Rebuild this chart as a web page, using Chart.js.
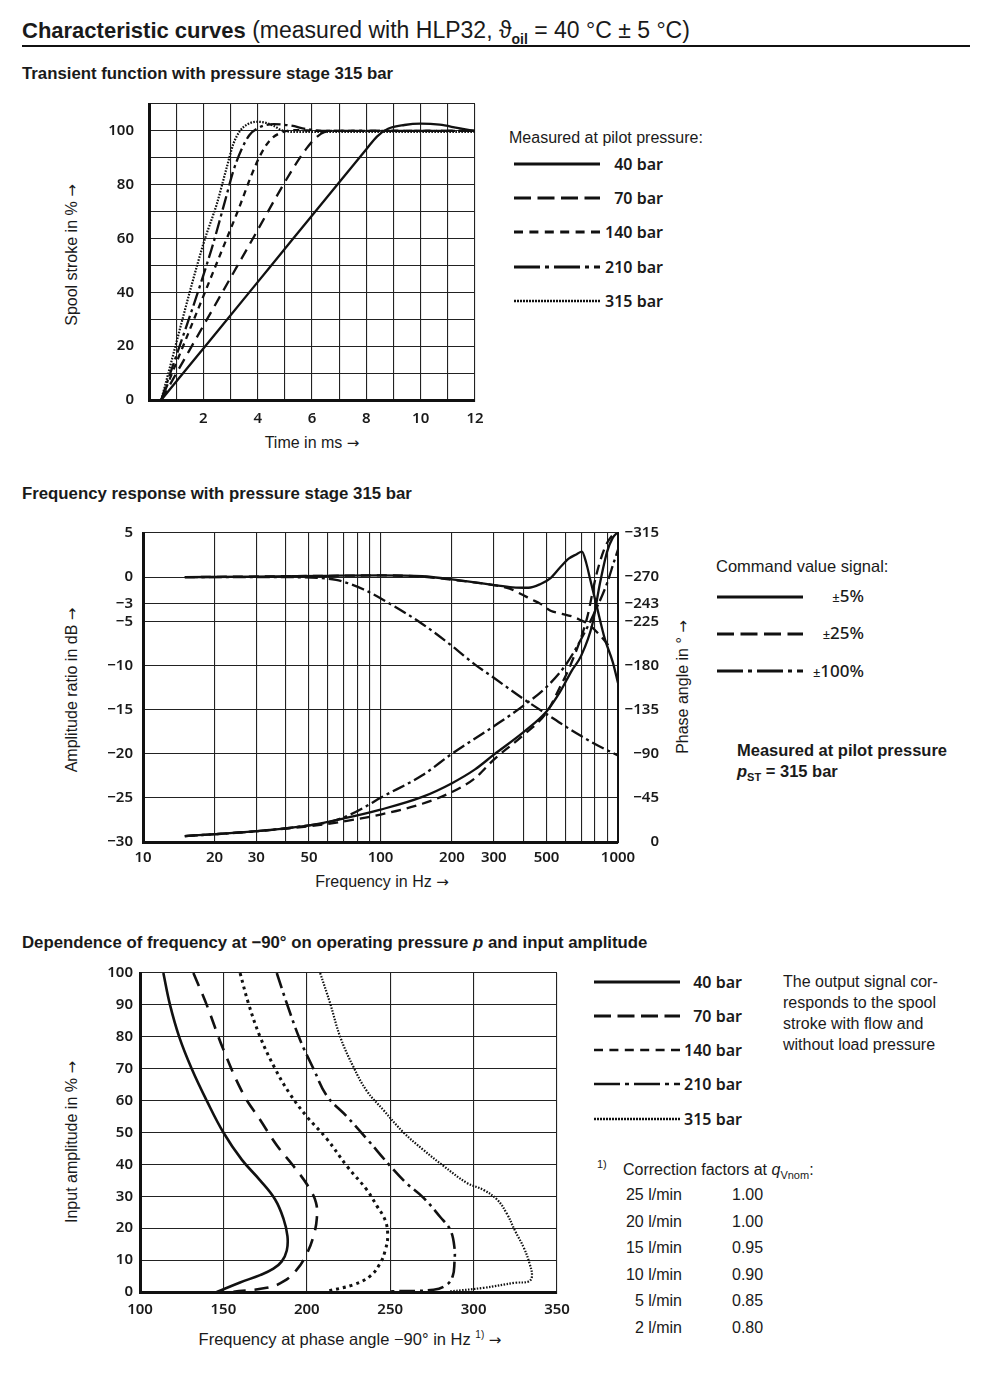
<!DOCTYPE html>
<html>
<head>
<meta charset="utf-8">
<script src="https://cdn.jsdelivr.net/npm/chart.js@4.4.0/dist/chart.umd.min.js"></script>
<style>
  body { margin: 0; width: 988px; height: 1400px; position: relative; background: #fff;
         font-family: "Liberation Sans", Arial, sans-serif; color: #1a1a1a; }
  .t { position: absolute; white-space: nowrap; font-size: 16px; line-height: 20px; }
  .b { font-weight: bold; }
  .h { font-size: 16.8px; font-weight: bold; }
  .lab { font-family: "Noto Sans", sans-serif; font-weight: 600; font-size: 16px; text-align: right; width: 100px; }
  .rot { transform: translate(-50%, -50%) rotate(-90deg); }
  .ctr { transform: translateX(-50%); }
  .ar { font-family: "DejaVu Sans", sans-serif; font-size: 15px; }
  canvas { position: absolute; }
  svg { position: absolute; left: 0; top: 0; }
</style>
</head>
<body>

<div class="t" style="left:22px;top:17px;font-size:23px;line-height:26px;">
  <b style="font-size:22px;">Characteristic curves</b> (measured with HLP32, ϑ<sub style="font-size:14px;font-weight:bold;">oil</sub> = 40 °C ± 5 °C)
</div>
<div style="position:absolute;left:22px;top:45px;width:948px;height:2px;background:#111;"></div>

<div class="t h" style="left:22px;top:64px;">Transient function with pressure stage 315 bar</div>
<div class="t rot" style="left:72px;top:255px;">Spool stroke in % <span class="ar">→</span></div>
<div class="t ctr" style="left:312px;top:433px;">Time in ms <span class="ar">→</span></div>
<div class="t" style="left:509px;top:128px;">Measured at pilot pressure:</div>
<div class="t lab" style="left:563px;top:154px;">40 bar</div>
<div class="t lab" style="left:563px;top:188px;">70 bar</div>
<div class="t lab" style="left:563px;top:222px;">140 bar</div>
<div class="t lab" style="left:563px;top:257px;">210 bar</div>
<div class="t lab" style="left:563px;top:291px;">315 bar</div>

<div class="t h" style="left:22px;top:484px;">Frequency response with pressure stage 315 bar</div>
<div class="t rot" style="left:72px;top:690px;">Amplitude ratio in dB <span class="ar">→</span></div>
<div class="t rot" style="left:683px;top:687px;">Phase angle in ° <span class="ar">→</span></div>
<div class="t ctr" style="left:382px;top:872px;">Frequency in Hz <span class="ar">→</span></div>
<div class="t" style="left:716px;top:556px;font-size:16.5px;">Command value signal:</div>
<div class="t lab" style="left:764px;top:586px;font-weight:500;font-size:17px;"><span style="font-size:13px;">±</span>5%</div>
<div class="t lab" style="left:764px;top:623px;font-weight:500;font-size:17px;"><span style="font-size:13px;">±</span>25%</div>
<div class="t lab" style="left:764px;top:661px;font-weight:500;font-size:17px;"><span style="font-size:13px;">±</span>100%</div>
<div class="t b" style="left:737px;top:740px;font-size:16.5px;">Measured at pilot pressure</div>
<div class="t b" style="left:737px;top:761px;font-size:16.5px;"><i>p</i><sub style="font-size:11px;">ST</sub> = 315 bar</div>

<div class="t h" style="left:22px;top:933px;">Dependence of frequency at −90° on operating pressure <i>p</i> and input amplitude</div>
<div class="t rot" style="left:72px;top:1142px;">Input amplitude in % <span class="ar">→</span></div>
<div class="t ctr" style="left:350px;top:1325px;font-size:16.5px;">Frequency at phase angle −90° in Hz <sup style="font-size:10px;">1)</sup> <span class="ar">→</span></div>
<div class="t lab" style="left:642px;top:972px;">40 bar</div>
<div class="t lab" style="left:642px;top:1006px;">70 bar</div>
<div class="t lab" style="left:642px;top:1040px;">140 bar</div>
<div class="t lab" style="left:642px;top:1074px;">210 bar</div>
<div class="t lab" style="left:642px;top:1109px;">315 bar</div>
<div class="t" style="left:783px;top:971px;line-height:21px;">The output signal cor-<br>responds to the spool<br>stroke with flow and<br>without load pressure</div>
<div class="t" style="left:597px;top:1154px;font-size:11px;">1)</div>
<div class="t" style="left:623px;top:1160px;">Correction factors at <i>q</i><sub style="font-size:11px;">Vnom</sub>:</div>
<div class="t" style="left:582px;top:1185px;width:100px;text-align:right;">25 l/min</div>
<div class="t" style="left:582px;top:1212px;width:100px;text-align:right;">20 l/min</div>
<div class="t" style="left:582px;top:1238px;width:100px;text-align:right;">15 l/min</div>
<div class="t" style="left:582px;top:1265px;width:100px;text-align:right;">10 l/min</div>
<div class="t" style="left:582px;top:1291px;width:100px;text-align:right;">5 l/min</div>
<div class="t" style="left:582px;top:1318px;width:100px;text-align:right;">2 l/min</div>
<div class="t" style="left:732px;top:1185px;">1.00</div>
<div class="t" style="left:732px;top:1212px;">1.00</div>
<div class="t" style="left:732px;top:1238px;">0.95</div>
<div class="t" style="left:732px;top:1265px;">0.90</div>
<div class="t" style="left:732px;top:1291px;">0.85</div>
<div class="t" style="left:732px;top:1318px;">0.80</div>

<svg width="988" height="1400" stroke="#111" stroke-width="3.2">
  <line x1="514" x2="600" y1="164" y2="164"/>
  <line x1="514" x2="600" y1="198" y2="198" stroke-dasharray="17 6.5"/>
  <line x1="514" x2="600" y1="232" y2="232" stroke-dasharray="9 6.4"/>
  <line x1="514" x2="600" y1="267" y2="267" stroke-dasharray="26 5 4 5"/>
  <line x1="514" x2="600" y1="301" y2="301" stroke-dasharray="2 1" stroke-width="2.6"/>
  <line x1="717" x2="803" y1="597" y2="597"/>
  <line x1="717" x2="803" y1="634" y2="634" stroke-dasharray="17 6.5"/>
  <line x1="717" x2="803" y1="671" y2="671" stroke-dasharray="26 5 4 5"/>
  <line x1="594" x2="680" y1="982" y2="982"/>
  <line x1="594" x2="680" y1="1016" y2="1016" stroke-dasharray="17 6.5"/>
  <line x1="594" x2="680" y1="1050" y2="1050" stroke-dasharray="9 6.4" stroke-width="2.4"/>
  <line x1="594" x2="680" y1="1084" y2="1084" stroke-dasharray="26 5 4 5" stroke-width="2.6"/>
  <line x1="594" x2="680" y1="1119" y2="1119" stroke-dasharray="2 1" stroke-width="2.4"/>
</svg>

<canvas id="c1" width="390" height="335" style="left:100px;top:95px;width:390px;height:335px;"></canvas>
<canvas id="c2" width="590" height="350" style="left:90px;top:520px;width:590px;height:350px;"></canvas>
<canvas id="c3" width="490" height="360" style="left:90px;top:960px;width:490px;height:360px;"></canvas>

<script>
// Transient function: [time ms, spool stroke %]
const stroke40 = [[0.45,0],[2.5,25.3],[4.5,50],[6.5,74.7],[8.0,93.2],[8.4,98],[8.8,100.8],[9.4,102.2],[10,102.7],[10.7,102.3],[11.4,101],[12,100]];
const stroke70 = [[0.45,0],[3.6,56],[5.3,86],[5.8,93.5],[6.1,97],[6.45,99.5],[6.9,100],[12,100]];
const stroke140 = [[0.45,0],[2.7,56],[3.3,71],[3.75,83],[4.1,91],[4.45,96.5],[4.9,99.5],[5.5,100.3],[6.2,100],[12,100]];
const stroke210 = [[0.45,0],[2.3,56],[2.8,74],[3.1,85],[3.4,93],[3.7,98.5],[4.0,101],[4.6,102.5],[5.2,102],[5.8,100.7],[6.5,100],[12,100]];
const stroke315 = [[0.45,0],[2.0,58],[2.5,73],[2.85,86],[3.1,95],[3.35,100],[3.6,102.3],[3.95,103.4],[4.3,103],[4.6,101.8],[4.9,100.2],[5.5,99.6],[12,99.6]];

// Frequency response: [Hz, dB] and [Hz, degrees]
const ampSmall = [[15,0],[30,0.05],[60,0.15],[100,0.2],[150,0.1],[200,-0.25],[300,-0.9],[360,-1.15],[420,-1.2],[470,-0.8],[520,-0.1],[570,1.1],[620,2.1],[670,2.6],[705,2.9],[735,1.6],[762,-0.15],[812,-3.2],[880,-7],[950,-9.6],[1000,-12]];
const ampMid = [[15,0],[60,0.15],[100,0.2],[150,0.05],[200,-0.3],[300,-0.9],[350,-1.3],[390,-1.9],[430,-2.5],[470,-3.0],[520,-3.8],[570,-4.1],[650,-4.5],[700,-4.9],[750,-5.3],[840,-6.6],[910,-7.7]];
const ampFull = [[15,0],[40,0],[55,-0.1],[65,-0.3],[75,-0.8],[85,-1.4],[100,-2.4],[150,-5.3],[200,-7.8],[250,-9.9],[300,-11.4],[400,-13.8],[500,-15.5],[600,-16.9],[700,-18],[800,-18.9],[900,-19.6],[1000,-20.2]];
const phaseSmall = [[15,-6],[20,-8],[30,-11],[50,-17],[70,-24],[100,-33],[150,-46],[200,-60],[250,-74],[300,-89],[400,-112],[500,-133],[570,-153],[640,-175],[700,-190],[780,-222],[840,-264],[900,-296],[950,-310],[1000,-316]];
const phaseMid = [[15,-6],[30,-11],[50,-16],[70,-21],[100,-28],[150,-39],[200,-51],[250,-65],[300,-84],[400,-109],[500,-132],[570,-158],[630,-180],[740,-228],[810,-272],[880,-300],[950,-313],[1000,-317]];
const phaseFull = [[15,-6],[30,-11],[50,-17],[60,-20],[70,-25],[85,-35],[100,-45],[150,-68],[200,-90],[300,-118],[400,-139],[500,-158],[600,-180],[700,-207],[800,-235],[900,-264],[960,-285],[1000,-298]];

// -90° frequency: [Hz, input amplitude %]
const freq40 = [[114,100],[118,90],[123.5,80],[131,70],[140,60],[150,50],[161,41.5],[172,35],[181,29],[186,23],[188.4,17.5],[188,13],[185,9.6],[180,7.3],[172,5.3],[160,3],[146,0]];
const freq70 = [[132,100],[140,90],[150,76],[162,62],[172,54],[182,46],[192,39.5],[201,33],[205.5,28],[206,23],[204,17.5],[200,12],[194,7],[186,3.3],[176,1.3],[156,0.1]];
const freq140 = [[160,100],[165,90.5],[172,80],[181,70],[190,62],[200,55],[212,48],[224,39.5],[236,32],[242,27],[247,22.5],[248.5,17.5],[247,13],[244,9],[238,5],[228,2.3],[212,0.2]];
const freq210 = [[182,100],[188,90.5],[196,79],[204,70],[212,61.5],[224,55],[236,48],[250,39.5],[260,34],[270,29.5],[280,23.5],[286,19.5],[288.5,14],[288.5,9],[287.5,5],[284,2.3],[276,0.7],[250,0.2]];
const freq315 = [[208,100],[214,90.5],[220,80],[228,70.5],[236,63],[246,57],[258,50],[270,44.5],[282,39.5],[296,34.2],[306,32],[314,29],[320,24.5],[325,19],[330,14],[333.5,9],[335,5],[333,3.3],[325,2.9],[306,1.3],[286,0.2]];

// tick values
const ampTicks = [5, 0, -3, -5, -10, -15, -20, -25, -30];
const phaseTicks = [0, -45, -90, -135, -180, -225, -243, -270, -315];
const freqGrid = [10,20,30,40,50,60,70,80,90,100,200,300,400,500,600,700,800,900,1000];
const freqLabels = [10, 20, 30, 50, 100, 200, 300, 500, 1000];

const ink = '#111';
const tickFont = { family: 'Noto Sans', size: 15, weight: '600' };
const minus = v => String(v).replace('-', '\u2212');

const curve = (pts, dash, width = 2.3, extra = {}) => Object.assign({
  data: pts.map(([x, y]) => ({ x, y })),
  borderColor: ink,
  borderWidth: width,
  borderDash: dash,
  borderCapStyle: 'butt',
  pointRadius: 0,
  showLine: true,
  fill: false,
  cubicInterpolationMode: 'monotone'
}, extra);

// chart 3 curves turn back on themselves, so they get plain bezier smoothing
const loop = (pts, dash, width) => curve(pts, dash, width, { cubicInterpolationMode: 'default', tension: 0.4 });

const fixW = w => s => { s.width = w; s.paddingTop = 0; s.paddingBottom = 0; };
const fixH = h => s => { s.height = h; s.paddingLeft = 0; s.paddingRight = 0; };

const grid = { color: '#222', lineWidth: 1.1, drawTicks: false };
const thick = { display: true, color: ink, width: 3 };

const base = (padding, scales) => ({
  responsive: false,
  animation: false,
  events: [],
  layout: { padding },
  plugins: { legend: { display: false }, tooltip: { enabled: false } },
  scales
});

new Chart(document.getElementById('c1'), {
  type: 'scatter',
  data: {
    datasets: [
      curve(stroke40, []),
      curve(stroke70, [11, 7]),
      curve(stroke140, [6, 5]),
      curve(stroke210, [14, 4, 3, 4]),
      curve(stroke315, [1.6, 1.4], 2.2)
    ]
  },
  options: base({ top: 9, right: 15, left: 0, bottom: 0 }, {
    x: {
      type: 'linear', min: 0, max: 12,
      grid, border: thick, afterFit: fixH(30),
      ticks: { stepSize: 1, padding: 10, color: '#1a1a1a', font: tickFont, maxRotation: 0, autoSkip: false,
               callback: v => (v > 0 && v % 2 === 0) ? v : '' }
    },
    y: {
      min: 0, max: 110,
      grid, border: thick, afterFit: fixW(49),
      ticks: { stepSize: 10, padding: 15, color: '#1a1a1a', font: tickFont, autoSkip: false,
               callback: v => (v % 20 === 0 && v <= 100) ? v : '' }
    }
  })
});

new Chart(document.getElementById('c2'), {
  type: 'scatter',
  data: {
    datasets: [
      curve(ampSmall, []),
      curve(ampMid, [10, 6]),
      curve(ampFull, [13, 4, 3, 4]),
      curve(phaseSmall, [], 2.3, { yAxisID: 'y2' }),
      curve(phaseMid, [10, 6], 2.3, { yAxisID: 'y2' }),
      curve(phaseFull, [13, 4, 3, 4], 2.3, { yAxisID: 'y2' })
    ]
  },
  options: base({ top: 13, right: 21, left: 0, bottom: 0 }, {
    x: {
      type: 'logarithmic', min: 10, max: 1000,
      grid, border: thick, afterFit: fixH(28),
      afterBuildTicks: s => { s.ticks = freqGrid.map(value => ({ value })); },
      ticks: { padding: 7, color: '#1a1a1a', font: tickFont, maxRotation: 0, autoSkip: false,
               callback: v => freqLabels.includes(v) ? String(v) : '' }
    },
    y: {
      min: -30, max: 5,
      grid, border: thick, afterFit: fixW(53),
      afterBuildTicks: s => { s.ticks = ampTicks.map(value => ({ value })); },
      ticks: { padding: 10, color: '#1a1a1a', font: tickFont, autoSkip: false, callback: minus }
    },
    y2: {
      position: 'right', min: -315, max: 0, reverse: true,
      grid: { drawOnChartArea: false, drawTicks: false },
      border: { display: true, color: ink, width: 2 },
      afterFit: fixW(41),
      afterBuildTicks: s => { s.ticks = phaseTicks.map(value => ({ value })); },
      ticks: { padding: 0, crossAlign: 'far', color: '#1a1a1a', font: tickFont, autoSkip: false, callback: minus }
    }
  })
});

new Chart(document.getElementById('c3'), {
  type: 'scatter',
  data: {
    datasets: [
      loop(freq40, [], 2.6),
      loop(freq70, [14, 9], 2.6),
      loop(freq140, [3, 4], 3),
      loop(freq210, [16, 5, 3, 5], 2.6),
      loop(freq315, [1.5, 1.5], 2.2)
    ]
  },
  options: base({ top: 13, right: 23, left: 0, bottom: 0 }, {
    x: {
      type: 'linear', min: 100, max: 350,
      grid, border: thick, afterFit: fixH(28),
      ticks: { stepSize: 50, padding: 9, color: '#1a1a1a', font: tickFont, maxRotation: 0, autoSkip: false }
    },
    y: {
      min: 0, max: 100,
      grid, border: thick, afterFit: fixW(50),
      ticks: { stepSize: 10, padding: 7, color: '#1a1a1a', font: tickFont, autoSkip: false }
    }
  })
});
</script>
</body>
</html>
